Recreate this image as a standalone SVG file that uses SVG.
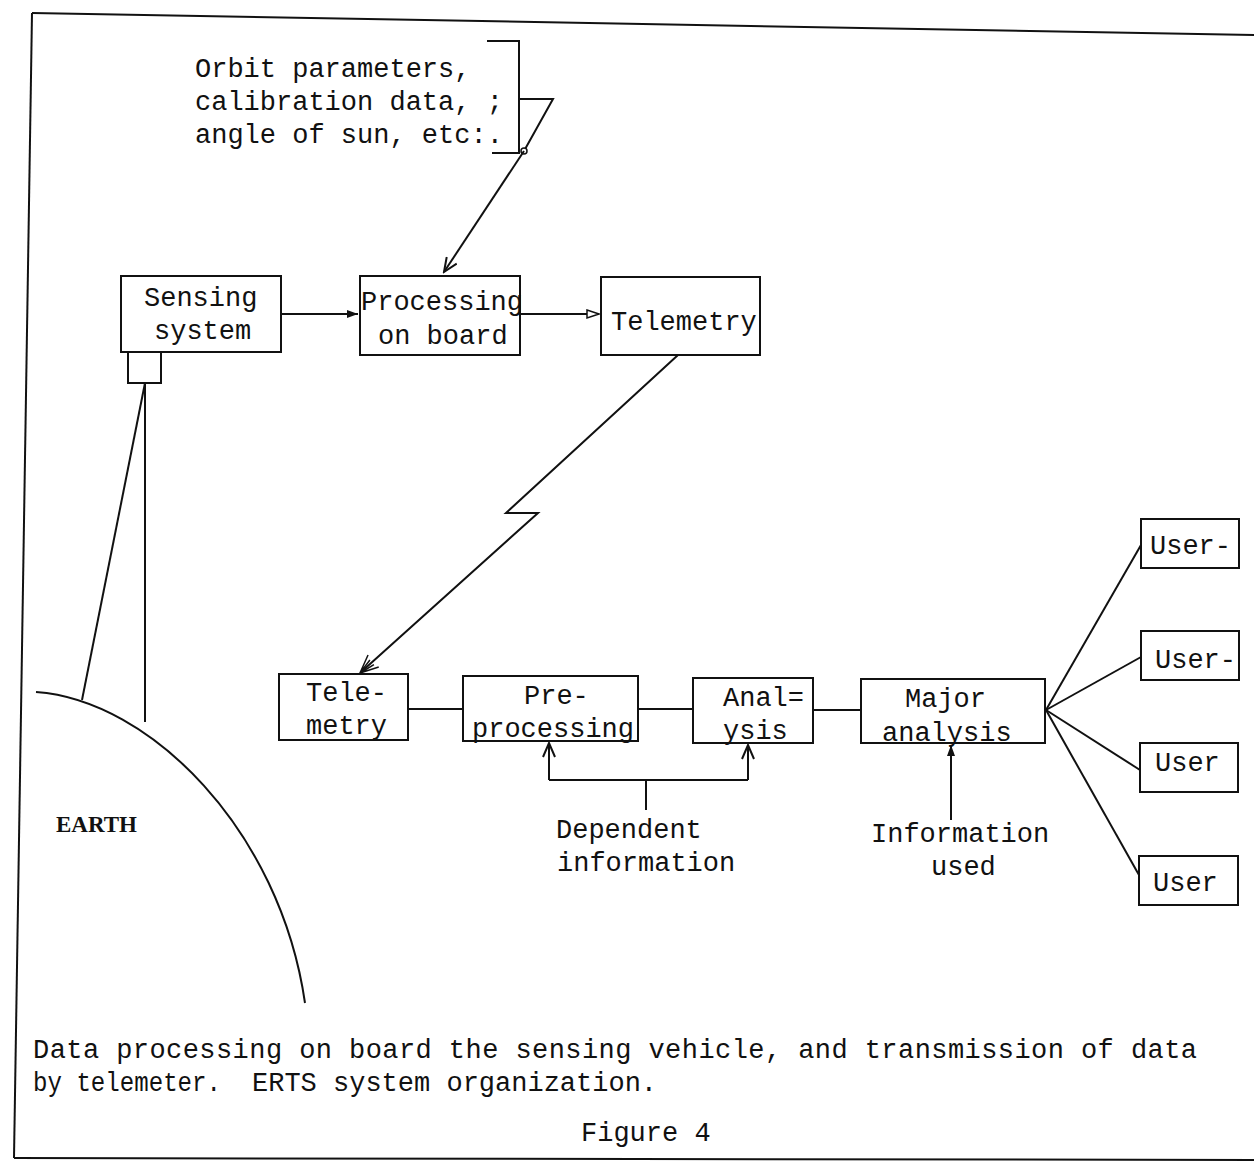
<svg xmlns="http://www.w3.org/2000/svg" width="1254" height="1165" viewBox="0 0 1254 1165">
<defs>
<style>
.t{font-family:"Liberation Mono","Courier New",monospace;font-size:27px;fill:#111}
.box{fill:none;stroke:#111;stroke-width:2}
.ln{fill:none;stroke:#111;stroke-width:2}
</style>
<marker id="fa" markerWidth="12" markerHeight="10" refX="11" refY="5" orient="auto" markerUnits="userSpaceOnUse">
<path d="M0,1 L11,5 L0,9 Z" fill="#111"/>
</marker>
<marker id="oa" markerWidth="14" markerHeight="12" refX="13" refY="6" orient="auto" markerUnits="userSpaceOnUse">
<path d="M1,2 L13,6 L1,10 Z" fill="#fff" stroke="#111" stroke-width="1.5"/>
</marker>
<marker id="va" markerWidth="18" markerHeight="14" refX="16" refY="7" orient="auto" markerUnits="userSpaceOnUse">
<path d="M2,1 L16,7 L2,13" fill="none" stroke="#111" stroke-width="2"/>
</marker>
<marker id="da" markerWidth="22" markerHeight="18" refX="20" refY="9" orient="auto" markerUnits="userSpaceOnUse">
<path d="M2,1 L20,9 M4,6 L20,9 M4,12 L20,9 M2,17 L20,9" fill="none" stroke="#111" stroke-width="1.5"/>
</marker>
</defs>
<rect width="1254" height="1165" fill="#fff"/>

<g id="frame">
<path class="ln" d="M32,13 L1254,35" stroke-width="2"/>
<path class="ln" d="M32,13 L14,1158" stroke-width="3"/>
<path class="ln" d="M14,1158 L1254,1160" stroke-width="2"/>
</g>

<g id="note">
<text class="t" x="195" y="77">Orbit parameters,</text>
<text class="t" x="195" y="110">calibration data, ;</text>
<text class="t" x="195" y="143">angle of sun, etc:.</text>
<path class="ln" d="M487,41 L519,41 L519,153 L492,153"/>
<path class="ln" d="M519,99 L553,99 L524,151"/>
<circle cx="524" cy="151" r="3" fill="#fff" stroke="#111" stroke-width="1.5"/>
</g>

<g id="sensing">
<rect class="box" x="121" y="276" width="160" height="76"/>
<text class="t" x="144" y="306">Sensing</text>
<text class="t" x="154" y="339">system</text>
<rect class="box" x="128" y="352" width="33" height="31"/>
</g>

<g id="processing">
<rect class="box" x="360" y="276" width="160" height="79"/>
<text class="t" x="361" y="310">Processing</text>
<text class="t" x="378" y="344">on board</text>
</g>

<g id="telemetry-top">
<rect class="box" x="601" y="277" width="159" height="78"/>
<text class="t" x="611" y="330">Telemetry</text>
</g>

<g id="earth">
<path class="ln" d="M36,692 C150,700 280,830 305,1003"/>
<text x="56" y="832" style="font-family:'Liberation Serif','Times New Roman',serif;font-size:23px;font-weight:bold;fill:#111">EARTH</text>
</g>

<g id="telemetry-bottom">
<rect class="box" x="279" y="674" width="129" height="66"/>
<text class="t" x="306" y="701">Tele-</text>
<text class="t" x="306" y="734">metry</text>
</g>

<g id="preprocessing">
<rect class="box" x="463" y="676" width="175" height="65"/>
<text class="t" x="524" y="704">Pre-</text>
<text class="t" x="472" y="737">processing</text>
</g>

<g id="analysis">
<rect class="box" x="693" y="678" width="120" height="65"/>
<text class="t" x="723" y="706">Anal=</text>
<text class="t" x="723" y="739">ysis</text>
</g>

<g id="major">
<rect class="box" x="861" y="679" width="184" height="64"/>
<text class="t" x="905" y="707">Major</text>
<text class="t" x="882" y="741">analysis</text>
</g>

<g id="dependent">
<text class="t" x="556" y="838">Dependent</text>
<text class="t" x="557" y="871">information</text>
</g>

<g id="info-used">
<text class="t" x="871" y="842">Information</text>
<text class="t" x="931" y="875">used</text>
</g>

<g id="user1">
<rect class="box" x="1141" y="519" width="98" height="49"/>
<text class="t" x="1150" y="554">User-</text>
</g>
<g id="user2">
<rect class="box" x="1141" y="631" width="98" height="49"/>
<text class="t" x="1155" y="668">User-</text>
</g>
<g id="user3">
<rect class="box" x="1140" y="743" width="98" height="49"/>
<text class="t" x="1155" y="771">User</text>
</g>
<g id="user4">
<rect class="box" x="1139" y="856" width="99" height="49"/>
<text class="t" x="1153" y="891">User</text>
</g>

<g id="connectors">
<path class="ln" d="M524,151 L444,272" marker-end="url(#va)"/>
<path class="ln" d="M281,314 L358,314" marker-end="url(#fa)"/>
<path class="ln" d="M520,314 L599,314" stroke-width="3" marker-end="url(#oa)"/>
<path class="ln" d="M145,383 L82,700"/>
<path class="ln" d="M145,383 L145,722"/>
<path class="ln" d="M678,355 L506,513 L538,513 L360,673" marker-end="url(#da)"/>
<path class="ln" d="M408,709 L463,709"/>
<path class="ln" d="M638,709 L693,709"/>
<path class="ln" d="M813,710 L861,710"/>
<path class="ln" d="M549,780 L748,780"/>
<path class="ln" d="M646,780 L646,810" stroke-width="3"/>
<path class="ln" d="M549,780 L549,743" marker-end="url(#va)"/>
<path class="ln" d="M748,780 L748,745" marker-end="url(#va)"/>
<path class="ln" d="M951,820 L951,745" marker-end="url(#fa)"/>
<path class="ln" d="M1046,710 L1141,545"/>
<path class="ln" d="M1046,710 L1141,657"/>
<path class="ln" d="M1046,710 L1140,770"/>
<path class="ln" d="M1046,710 L1139,875"/>
</g>

<g id="caption">
<text class="t" x="33" y="1058" textLength="1164" lengthAdjust="spacing">Data processing on board the sensing vehicle, and transmission of data</text>
<text class="t" x="33" y="1091"><tspan textLength="188" lengthAdjust="spacingAndGlyphs">by telemeter.</tspan><tspan x="252">ERTS system organization.</tspan></text>
<text class="t" x="581" y="1141">Figure 4</text>
</g>
</svg>
